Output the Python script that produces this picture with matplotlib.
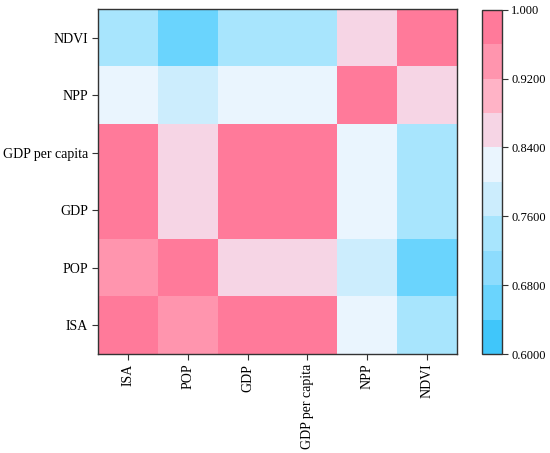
import matplotlib
matplotlib.use("Agg")
import matplotlib.pyplot as plt
import numpy as np
from matplotlib.colors import ListedColormap, BoundaryNorm

plt.rcParams["font.family"] = ["Liberation Serif", "DejaVu Serif"]

x_labels = ["ISA", "POP", "GDP", "GDP per capita", "NPP", "NDVI"]
y_labels = ["ISA", "POP", "GDP", "GDP per capita", "NPP", "NDVI"]  # bottom to top

# correlation matrix, rows in y_labels order (bottom -> top)
corr = np.array([
    [0.98, 0.94, 0.98, 0.98, 0.82, 0.74],  # ISA
    [0.94, 0.98, 0.86, 0.86, 0.78, 0.66],  # POP
    [0.98, 0.86, 0.98, 0.98, 0.82, 0.74],  # GDP
    [0.98, 0.86, 0.98, 0.98, 0.82, 0.74],  # GDP per capita
    [0.82, 0.78, 0.82, 0.82, 0.98, 0.86],  # NPP
    [0.74, 0.66, 0.74, 0.74, 0.86, 0.98],  # NDVI
])

levels = np.linspace(0.6, 1.0, 11)
level_colors = ["#40c6fa", "#6ad4fd", "#8ddcfd", "#a8e5fd", "#ccedfd",
                "#eaf5fe", "#f6d5e5", "#ffb3c6", "#ff95ae", "#ff7a9a"]
cbar_ticks = [0.6, 0.68, 0.76, 0.84, 0.92, 1.0]
cbar_ticklabels = ["0.6000", "0.6800", "0.7600", "0.8400", "0.9200", "1.000"]

cmap = ListedColormap(level_colors)
norm = BoundaryNorm(levels, cmap.N)

fs = 10
fig = plt.figure(figsize=(5.5, 4.53), dpi=100)
ax = fig.add_axes([0.178, 0.2185, 0.653, 0.762])
cax = fig.add_axes([0.876, 0.2185, 0.036, 0.76])

mesh = ax.pcolormesh(corr, cmap=cmap, norm=norm)
ax.set_xticks(np.arange(len(x_labels)) + 0.5)
ax.set_xticklabels(x_labels, rotation=90, fontsize=fs)
ax.set_yticks(np.arange(len(y_labels)) + 0.5)
ax.set_yticklabels(y_labels, fontsize=fs)
ax.tick_params(length=4, width=0.8, color="#333333", pad=3)
for s in ax.spines.values():
    s.set_linewidth(1.0)
    s.set_color("#333333")

cb = fig.colorbar(mesh, cax=cax, ticks=cbar_ticks, drawedges=False)
cb.ax.minorticks_off()
cb.ax.set_yticklabels(cbar_ticklabels, fontsize=9)
cb.ax.tick_params(length=4, width=0.8, color="#333333", pad=3)
cb.outline.set_linewidth(1.0)
cb.outline.set_edgecolor("#333333")

fig.savefig("out.png", dpi=100)
